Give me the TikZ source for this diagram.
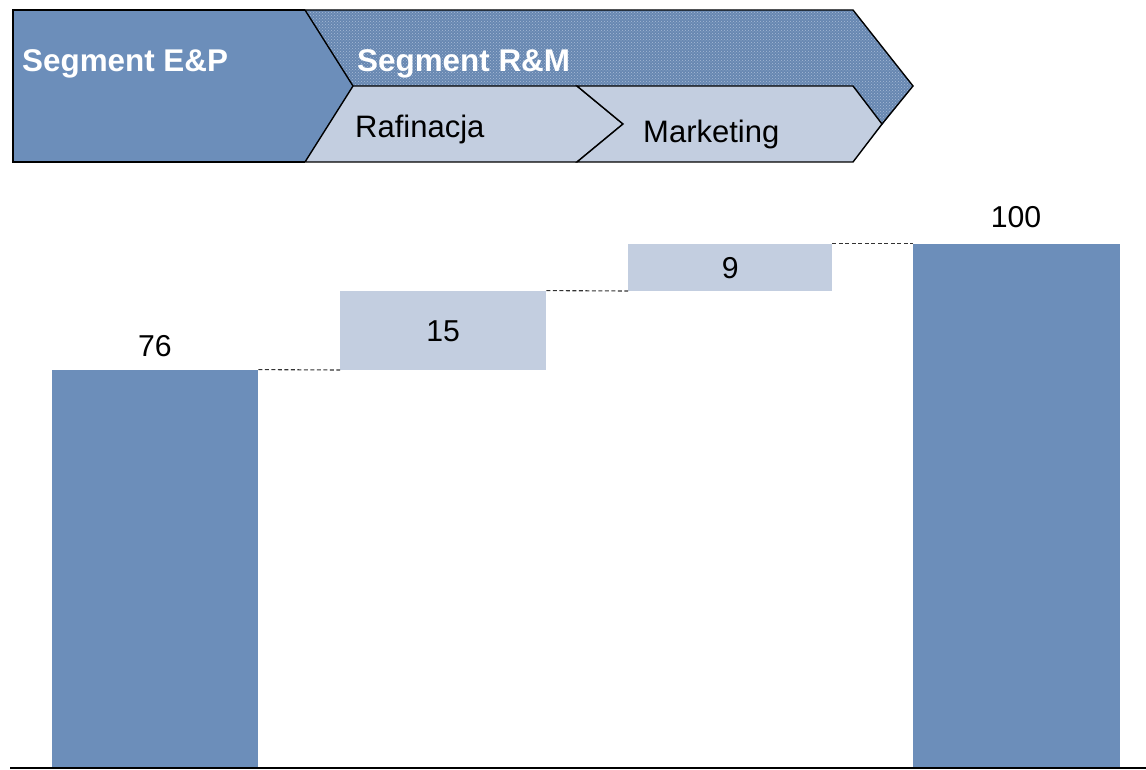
\documentclass[tikz,border=0pt]{standalone}
\usepackage{fontspec}
\setmainfont{Liberation Sans}
\usetikzlibrary{patterns}
\definecolor{segdark}{RGB}{108,142,186}
\definecolor{seglight}{RGB}{195,206,224}
\definecolor{dashgray}{RGB}{50,50,50}
\tikzset{
  outline/.style={draw=black, line width=1.4pt, line join=miter},
  segtitle/.style={font=\fontsize{31.4}{37}\selectfont\bfseries, text=white, anchor=base west, inner sep=0pt},
  subtitle/.style={font=\fontsize{31}{37}\selectfont, text=black, anchor=base west, inner sep=0pt},
  totalbar/.style={fill=segdark, draw=none, anchor=south west, inner sep=0pt, minimum width=206pt},
  stepbar/.style={fill=seglight, draw=none, anchor=south west, inner sep=0pt, minimum width=205pt},
  value/.style={font=\fontsize{30.2}{36}\selectfont, text=black, anchor=base, inner sep=0pt},
  link/.style={draw=dashgray, line width=1.1pt, dash pattern=on 4pt off 2.5pt},
}
\begin{document}
\begin{tikzpicture}[x=1pt, y=-1pt]
\useasboundingbox (0,0) rectangle (1146,770);

% upstream segment
\fill[segdark] (13,10) -- (305,10) -- (353,86) -- (305,162) -- (13,162) -- cycle;
\draw[outline] (305,10) -- (13,10) -- (13,162) -- (305,162);

% downstream segment chevron with dotted texture
\fill[segdark!95!black] (305,10) -- (853,10) -- (913,86) -- (853,162) -- (305,162) -- (353,86) -- cycle;
\fill[pattern=crosshatch dots, pattern color=white!40!segdark]
  (305,10) -- (853,10) -- (913,86) -- (853,162) -- (305,162) -- (353,86) -- cycle;
\draw[outline] (305,10) -- (853,10) -- (913,86) -- (882,124);
\draw[outline] (305,10) -- (353,86);

% refining and marketing chevrons
\draw[outline, fill=seglight] (353,86) -- (577,86) -- (623,124) -- (577,162) -- (305,162) -- cycle;
\draw[outline, fill=seglight] (577,86) -- (853,86) -- (882,124) -- (853,162) -- (577,162) -- (623,124) -- cycle;

\node[segtitle] (tEP) at (22,72) {Segment E\&P};
\node[segtitle] (tRM) at (357,72) {Segment R\&M};
\node[subtitle] (tRaf) at (355,138) {Rafinacja};
\node[subtitle] (tMkt) at (643,143) {Marketing};

% waterfall bars
\node[totalbar, minimum height=398pt] (b1) at (52,768) {};
\node[stepbar, minimum height=79pt, minimum width=206pt] (b2) at (340,370) {};
\node[stepbar, minimum height=47pt, minimum width=204pt] (b3) at (628,291) {};
\node[totalbar, minimum height=524pt, minimum width=207pt] (b4) at (913,768) {};

\node[value] (v1) at (155,356) {76};
\node[value] (v2) at (b2.center) [yshift=-11pt] {15};
\node[value] (v3) at (b3.center) [yshift=-11pt] {9};
\node[value] (v4) at (1016,228) {100};

% connectors between bar levels
\draw[link] (b1.north east) -- (b2.south west);
\draw[link] (b2.north east) -- (b3.south west);
\draw[link] (b3.north east) -- (b4.north west);

% axis line
\coordinate (axL) at (10,768);
\coordinate (axR) at (1146,768);
\draw[black, line width=1.2pt] (axL) -- (axR);
\end{tikzpicture}
\end{document}
